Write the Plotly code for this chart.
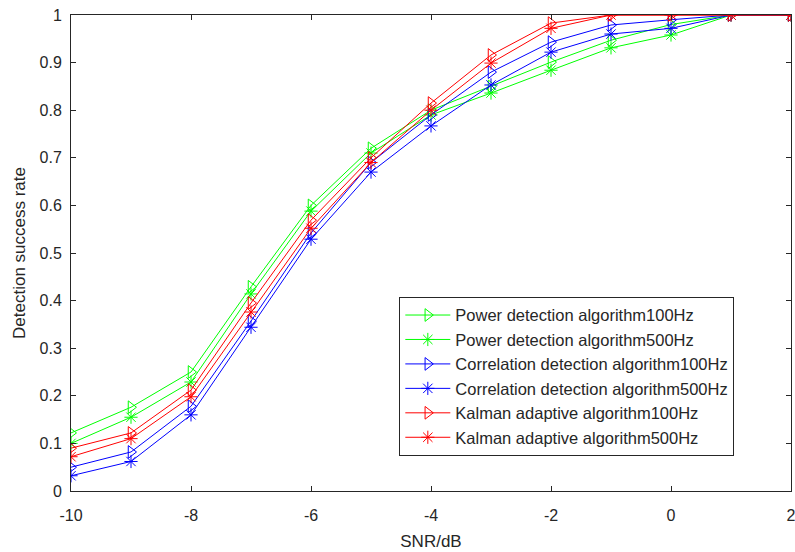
import plotly.graph_objects as go

snr = [-10, -9, -8, -7, -6, -5, -4, -3, -2, -1, 0, 1, 2]

power_100 = [0.122, 0.176, 0.250, 0.429, 0.600, 0.720, 0.800, 0.850, 0.901, 0.947, 0.980, 1.0, 1.0]
power_500 = [0.100, 0.155, 0.229, 0.414, 0.588, 0.710, 0.790, 0.836, 0.884, 0.931, 0.958, 1.0, 1.0]
corr_100 = [0.050, 0.082, 0.178, 0.357, 0.542, 0.690, 0.790, 0.880, 0.943, 0.979, 0.990, 1.0, 1.0]
corr_500 = [0.032, 0.062, 0.160, 0.344, 0.529, 0.670, 0.767, 0.853, 0.922, 0.960, 0.972, 1.0, 1.0]
kalman_100 = [0.090, 0.122, 0.212, 0.395, 0.569, 0.700, 0.815, 0.916, 0.983, 1.0, 1.0, 1.0, 1.0]
kalman_500 = [0.072, 0.110, 0.198, 0.376, 0.552, 0.690, 0.800, 0.899, 0.972, 1.0, 1.0, 1.0, 1.0]

x_ticks = [-10, -8, -6, -4, -2, 0, 2]
x_labels = ["-10", "-8", "-6", "-4", "-2", "0", "2"]
y_ticks = [0, 0.1, 0.2, 0.3, 0.4, 0.5, 0.6, 0.7, 0.8, 0.9, 1]
y_labels = ["0", "0.1", "0.2", "0.3", "0.4", "0.5", "0.6", "0.7", "0.8", "0.9", "1"]

series = [
    ("Power detection algorithm100Hz", power_100, "#00ff00", "triangle-right-open"),
    ("Power detection algorithm500Hz", power_500, "#00ff00", "asterisk-open"),
    ("Correlation detection algorithm100Hz", corr_100, "#0000ff", "triangle-right-open"),
    ("Correlation detection algorithm500Hz", corr_500, "#0000ff", "asterisk-open"),
    ("Kalman adaptive algorithm100Hz", kalman_100, "#ff0000", "triangle-right-open"),
    ("Kalman adaptive algorithm500Hz", kalman_500, "#ff0000", "asterisk-open"),
]

fig = go.Figure()
for name, vals, col, sym in series:
    fig.add_trace(go.Scatter(
        x=snr, y=vals, name=name, mode="lines+markers",
        line=dict(color=col, width=1),
        marker=dict(symbol=sym, size=11, color=col, line=dict(color=col, width=1)),
    ))

axis_style = dict(
    showline=True, linecolor="#262626", linewidth=1, mirror="ticks",
    ticks="inside", ticklen=5, tickcolor="#262626", showgrid=False, zeroline=False,
    tickfont=dict(size=16, color="#262626"), automargin=False, ticklabeloverflow="allow",
)

fig.update_layout(
    width=795, height=552,
    margin=dict(l=71, r=4, t=15, b=61),
    paper_bgcolor="white", plot_bgcolor="white",
    font=dict(family="Liberation Sans, Arial, sans-serif", color="#262626"),
    xaxis=dict(range=[-10, 2], tickvals=x_ticks, ticktext=x_labels, ticklabelstandoff=10,
               title=dict(text="SNR/dB", font=dict(size=17), standoff=11), **axis_style),
    yaxis=dict(range=[0, 1], tickvals=y_ticks, ticktext=y_labels, ticklabelstandoff=5,
               title=dict(text="Detection success rate", font=dict(size=17), standoff=9), **axis_style),
    legend=dict(x=0.456, y=0.408, xanchor="left", yanchor="top",
                bordercolor="#262626", borderwidth=1, bgcolor="white",
                font=dict(size=16.5, color="#262626"), itemwidth=45),
)

# page body has an 8px default margin; drop it so the figure sits at the top-left
fig.write_html("out.html", config={"displayModeBar": False},
               post_script="document.body.style.margin='0';")
